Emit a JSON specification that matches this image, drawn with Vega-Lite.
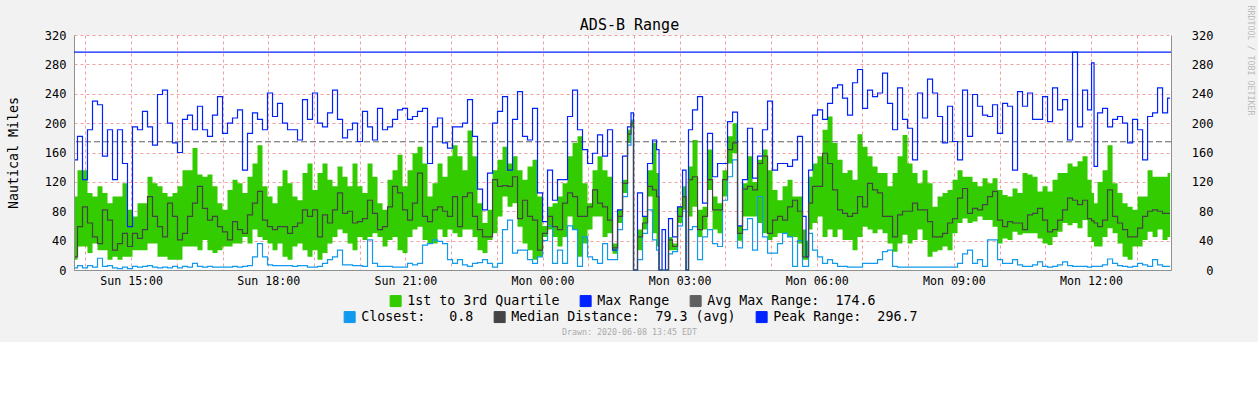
{
 "$schema": "https://vega.github.io/schema/vega-lite/v6.json",
 "width": 1097,
 "height": 235,
 "autosize": {"type": "none"},
 "padding": {"left": 74, "top": 35, "right": 87, "bottom": 72},
 "background": "#F2F2F2",
 "title": {"text": "ADS-B Range", "font": "DejaVu Sans Mono", "fontSize": 15, "fontWeight": "normal", "color": "#000000", "anchor": "middle", "frame": "group", "dx": 7, "offset": -40, "baseline": "alphabetic"},
 "config": {"view": {"fill": "white", "stroke": null}},
 "data": {"values": [
{"t":1.3,"max":150,"q3":100,"q1":14,"med":18,"cl":3},
{"t":7.9,"max":182,"q3":136,"q1":32,"med":59,"cl":6},
{"t":14.4,"max":123,"q3":136,"q1":32,"med":86,"cl":3},
{"t":21.0,"max":191,"q3":105,"q1":23,"med":64,"cl":6},
{"t":27.6,"max":230,"q3":100,"q1":36,"med":45,"cl":4},
{"t":34.1,"max":225,"q3":114,"q1":27,"med":36,"cl":16},
{"t":40.7,"max":155,"q3":105,"q1":27,"med":82,"cl":5},
{"t":47.3,"max":191,"q3":91,"q1":14,"med":68,"cl":6},
{"t":53.8,"max":123,"q3":100,"q1":18,"med":27,"cl":3},
{"t":60.4,"max":191,"q3":100,"q1":14,"med":36,"cl":2},
{"t":66.9,"max":145,"q3":118,"q1":18,"med":50,"cl":4},
{"t":73.5,"max":59,"q3":82,"q1":18,"med":32,"cl":2},
{"t":80.1,"max":195,"q3":73,"q1":27,"med":50,"cl":5},
{"t":86.6,"max":191,"q3":91,"q1":27,"med":43,"cl":4},
{"t":93.2,"max":216,"q3":91,"q1":27,"med":55,"cl":5},
{"t":99.8,"max":195,"q3":127,"q1":36,"med":100,"cl":6},
{"t":106.3,"max":170,"q3":118,"q1":36,"med":73,"cl":4},
{"t":112.9,"max":239,"q3":114,"q1":18,"med":59,"cl":3},
{"t":119.5,"max":245,"q3":105,"q1":18,"med":45,"cl":4},
{"t":126.0,"max":200,"q3":100,"q1":14,"med":91,"cl":3},
{"t":132.6,"max":173,"q3":105,"q1":14,"med":73,"cl":5},
{"t":139.1,"max":160,"q3":114,"q1":14,"med":41,"cl":3},
{"t":145.7,"max":205,"q3":136,"q1":32,"med":50,"cl":5},
{"t":152.3,"max":211,"q3":136,"q1":32,"med":73,"cl":4},
{"t":158.8,"max":191,"q3":166,"q1":32,"med":91,"cl":9},
{"t":165.4,"max":223,"q3":130,"q1":27,"med":114,"cl":5},
{"t":172.0,"max":191,"q3":127,"q1":41,"med":84,"cl":4},
{"t":178.5,"max":182,"q3":130,"q1":27,"med":68,"cl":5},
{"t":185.1,"max":211,"q3":114,"q1":23,"med":73,"cl":4},
{"t":191.7,"max":236,"q3":91,"q1":27,"med":59,"cl":4},
{"t":198.2,"max":186,"q3":82,"q1":32,"med":52,"cl":4},
{"t":204.8,"max":200,"q3":109,"q1":32,"med":41,"cl":4},
{"t":211.4,"max":207,"q3":123,"q1":36,"med":66,"cl":5},
{"t":217.9,"max":218,"q3":118,"q1":36,"med":55,"cl":4},
{"t":224.5,"max":136,"q3":105,"q1":45,"med":50,"cl":5},
{"t":231.0,"max":186,"q3":127,"q1":36,"med":75,"cl":6},
{"t":237.6,"max":214,"q3":145,"q1":55,"med":91,"cl":18},
{"t":244.2,"max":205,"q3":170,"q1":45,"med":107,"cl":36},
{"t":250.7,"max":191,"q3":114,"q1":41,"med":68,"cl":18},
{"t":257.3,"max":241,"q3":100,"q1":36,"med":59,"cl":7},
{"t":263.9,"max":209,"q3":91,"q1":27,"med":55,"cl":6},
{"t":270.4,"max":227,"q3":114,"q1":36,"med":59,"cl":6},
{"t":277.0,"max":200,"q3":136,"q1":18,"med":59,"cl":6},
{"t":283.6,"max":191,"q3":118,"q1":14,"med":50,"cl":6},
{"t":290.1,"max":191,"q3":100,"q1":32,"med":59,"cl":5},
{"t":296.7,"max":177,"q3":95,"q1":36,"med":64,"cl":6},
{"t":303.2,"max":232,"q3":132,"q1":27,"med":82,"cl":6},
{"t":309.8,"max":205,"q3":145,"q1":18,"med":73,"cl":4},
{"t":316.4,"max":241,"q3":109,"q1":27,"med":82,"cl":4},
{"t":322.9,"max":200,"q3":132,"q1":14,"med":45,"cl":5},
{"t":329.5,"max":195,"q3":145,"q1":23,"med":75,"cl":9},
{"t":336.1,"max":214,"q3":123,"q1":36,"med":64,"cl":14},
{"t":342.6,"max":245,"q3":114,"q1":45,"med":82,"cl":18},
{"t":349.2,"max":205,"q3":141,"q1":55,"med":105,"cl":27},
{"t":355.8,"max":180,"q3":127,"q1":50,"med":77,"cl":7},
{"t":362.3,"max":191,"q3":114,"q1":36,"med":80,"cl":7},
{"t":368.9,"max":200,"q3":145,"q1":27,"med":64,"cl":6},
{"t":375.4,"max":175,"q3":114,"q1":45,"med":66,"cl":6},
{"t":382.0,"max":216,"q3":105,"q1":41,"med":70,"cl":5},
{"t":388.6,"max":195,"q3":145,"q1":45,"med":95,"cl":41},
{"t":395.1,"max":177,"q3":127,"q1":50,"med":77,"cl":9},
{"t":401.7,"max":220,"q3":91,"q1":45,"med":55,"cl":5},
{"t":408.3,"max":191,"q3":82,"q1":32,"med":59,"cl":5},
{"t":414.8,"max":195,"q3":123,"q1":41,"med":86,"cl":5},
{"t":421.4,"max":205,"q3":136,"q1":45,"med":114,"cl":4},
{"t":428.0,"max":218,"q3":157,"q1":27,"med":105,"cl":4},
{"t":434.5,"max":220,"q3":114,"q1":23,"med":82,"cl":4},
{"t":441.1,"max":205,"q3":136,"q1":45,"med":68,"cl":9},
{"t":447.6,"max":209,"q3":159,"q1":55,"med":91,"cl":7},
{"t":454.2,"max":216,"q3":168,"q1":59,"med":132,"cl":9},
{"t":460.8,"max":220,"q3":145,"q1":41,"med":73,"cl":34},
{"t":467.3,"max":145,"q3":100,"q1":36,"med":66,"cl":36},
{"t":473.9,"max":195,"q3":118,"q1":36,"med":82,"cl":41},
{"t":480.5,"max":207,"q3":145,"q1":55,"med":86,"cl":39},
{"t":487.0,"max":173,"q3":127,"q1":45,"med":80,"cl":36},
{"t":493.6,"max":166,"q3":155,"q1":55,"med":73,"cl":14},
{"t":500.2,"max":195,"q3":170,"q1":50,"med":100,"cl":9},
{"t":506.7,"max":195,"q3":155,"q1":45,"med":59,"cl":14},
{"t":513.3,"max":200,"q3":136,"q1":55,"med":100,"cl":7},
{"t":519.8,"max":232,"q3":190,"q1":55,"med":105,"cl":5},
{"t":526.4,"max":182,"q3":155,"q1":45,"med":73,"cl":9},
{"t":533.0,"max":110,"q3":91,"q1":27,"med":55,"cl":10},
{"t":539.5,"max":82,"q3":64,"q1":23,"med":45,"cl":14},
{"t":546.1,"max":132,"q3":82,"q1":41,"med":45,"cl":9},
{"t":552.7,"max":200,"q3":136,"q1":50,"med":123,"cl":4},
{"t":559.2,"max":216,"q3":150,"q1":73,"med":114,"cl":9},
{"t":565.8,"max":236,"q3":168,"q1":100,"med":115,"cl":55},
{"t":572.4,"max":136,"q3":145,"q1":86,"med":114,"cl":68},
{"t":578.9,"max":205,"q3":155,"q1":91,"med":127,"cl":23},
{"t":585.5,"max":243,"q3":136,"q1":59,"med":70,"cl":27},
{"t":592.0,"max":182,"q3":123,"q1":36,"med":95,"cl":27},
{"t":598.6,"max":177,"q3":141,"q1":27,"med":73,"cl":14},
{"t":605.2,"max":220,"q3":150,"q1":14,"med":68,"cl":9},
{"t":611.7,"max":105,"q3":100,"q1":18,"med":27,"cl":18},
{"t":618.3,"max":66,"q3":60,"q1":45,"med":50,"cl":40},
{"t":624.9,"max":136,"q3":86,"q1":55,"med":73,"cl":60},
{"t":631.4,"max":95,"q3":91,"q1":45,"med":59,"cl":9},
{"t":638.0,"max":123,"q3":100,"q1":32,"med":55,"cl":27},
{"t":644.6,"max":123,"q3":118,"q1":45,"med":91,"cl":9},
{"t":651.1,"max":209,"q3":155,"q1":73,"med":105,"cl":60},
{"t":657.7,"max":245,"q3":173,"q1":55,"med":100,"cl":55},
{"t":664.2,"max":191,"q3":182,"q1":18,"med":73,"cl":5},
{"t":670.8,"max":164,"q3":118,"q1":36,"med":73,"cl":45},
{"t":677.4,"max":145,"q3":91,"q1":55,"med":86,"cl":18},
{"t":683.9,"max":159,"q3":136,"q1":73,"med":109,"cl":14},
{"t":690.5,"max":184,"q3":155,"q1":73,"med":91,"cl":9},
{"t":697.1,"max":155,"q3":136,"q1":45,"med":86,"cl":36},
{"t":703.6,"max":191,"q3":127,"q1":50,"med":68,"cl":14},
{"t":710.2,"max":27,"q3":36,"q1":22,"med":30,"cl":14},
{"t":716.8,"max":82,"q3":82,"q1":64,"med":73,"cl":55},
{"t":723.3,"max":155,"q3":123,"q1":105,"med":118,"cl":100},
{"t":729.9,"max":195,"q3":191,"q1":173,"med":185,"cl":170},
{"t":732.5,"max":214,"q3":205,"q1":195,"med":200,"cl":195},
{"t":736.4,"max":0,"q3":0,"q1":0,"med":0,"cl":0},
{"t":743.0,"max":105,"q3":55,"q1":27,"med":45,"cl":14},
{"t":749.6,"max":73,"q3":73,"q1":55,"med":64,"cl":50},
{"t":756.1,"max":145,"q3":136,"q1":100,"med":114,"cl":82},
{"t":762.7,"max":177,"q3":173,"q1":50,"med":109,"cl":41},
{"t":766.6,"max":164,"q3":132,"q1":32,"med":100,"cl":27},
{"t":769.3,"max":0,"q3":0,"q1":0,"med":0,"cl":0},
{"t":774.5,"max":55,"q3":0,"q1":0,"med":0,"cl":0},
{"t":778.4,"max":0,"q3":0,"q1":0,"med":0,"cl":0},
{"t":782.4,"max":70,"q3":45,"q1":27,"med":41,"cl":22},
{"t":789.0,"max":45,"q3":36,"q1":27,"med":32,"cl":25},
{"t":795.5,"max":86,"q3":86,"q1":64,"med":73,"cl":60},
{"t":802.1,"max":136,"q3":114,"q1":82,"med":100,"cl":80},
{"t":804.7,"max":0,"q3":0,"q1":0,"med":0,"cl":0},
{"t":808.6,"max":191,"q3":141,"q1":73,"med":123,"cl":55},
{"t":815.2,"max":218,"q3":177,"q1":86,"med":127,"cl":59},
{"t":821.8,"max":236,"q3":82,"q1":45,"med":55,"cl":14},
{"t":828.3,"max":91,"q3":86,"q1":55,"med":73,"cl":45},
{"t":834.9,"max":186,"q3":164,"q1":109,"med":123,"cl":55},
{"t":841.5,"max":127,"q3":100,"q1":55,"med":82,"cl":36},
{"t":848.0,"max":145,"q3":91,"q1":50,"med":82,"cl":32},
{"t":854.6,"max":145,"q3":136,"q1":100,"med":123,"cl":95},
{"t":861.2,"max":202,"q3":182,"q1":145,"med":164,"cl":127},
{"t":867.7,"max":215,"q3":200,"q1":159,"med":173,"cl":150},
{"t":874.3,"max":60,"q3":60,"q1":40,"med":50,"cl":30},
{"t":880.8,"max":123,"q3":118,"q1":73,"med":110,"cl":55},
{"t":887.4,"max":193,"q3":155,"q1":73,"med":114,"cl":70},
{"t":894.0,"max":125,"q3":120,"q1":73,"med":109,"cl":27},
{"t":900.5,"max":155,"q3":150,"q1":64,"med":145,"cl":100},
{"t":907.1,"max":191,"q3":164,"q1":50,"med":155,"cl":45},
{"t":913.7,"max":230,"q3":136,"q1":41,"med":50,"cl":23},
{"t":920.2,"max":136,"q3":109,"q1":45,"med":68,"cl":23},
{"t":926.8,"max":145,"q3":95,"q1":50,"med":73,"cl":36},
{"t":933.4,"max":145,"q3":114,"q1":50,"med":68,"cl":50},
{"t":939.9,"max":141,"q3":123,"q1":45,"med":86,"cl":45},
{"t":946.5,"max":150,"q3":100,"q1":45,"med":95,"cl":5},
{"t":953.0,"max":182,"q3":100,"q1":36,"med":80,"cl":40},
{"t":959.6,"max":73,"q3":55,"q1":14,"med":18,"cl":5},
{"t":962.3,"max":18,"q3":40,"q1":14,"med":18,"cl":5},
{"t":966.2,"max":136,"q3":127,"q1":55,"med":91,"cl":50},
{"t":972.7,"max":211,"q3":145,"q1":64,"med":114,"cl":27},
{"t":979.3,"max":218,"q3":155,"q1":73,"med":114,"cl":18},
{"t":985.9,"max":205,"q3":191,"q1":45,"med":159,"cl":9},
{"t":992.4,"max":227,"q3":209,"q1":55,"med":145,"cl":14},
{"t":999.0,"max":248,"q3":173,"q1":45,"med":109,"cl":9},
{"t":1005.6,"max":252,"q3":150,"q1":55,"med":82,"cl":5},
{"t":1012.1,"max":234,"q3":132,"q1":41,"med":77,"cl":5},
{"t":1018.7,"max":211,"q3":136,"q1":41,"med":73,"cl":4},
{"t":1025.2,"max":255,"q3":123,"q1":27,"med":77,"cl":4},
{"t":1031.8,"max":273,"q3":185,"q1":45,"med":100,"cl":4},
{"t":1038.4,"max":220,"q3":168,"q1":59,"med":86,"cl":9},
{"t":1044.9,"max":245,"q3":155,"q1":55,"med":118,"cl":9},
{"t":1051.5,"max":236,"q3":141,"q1":50,"med":109,"cl":9},
{"t":1058.1,"max":241,"q3":132,"q1":55,"med":105,"cl":14},
{"t":1064.6,"max":268,"q3":132,"q1":50,"med":73,"cl":25},
{"t":1071.2,"max":227,"q3":114,"q1":36,"med":73,"cl":27},
{"t":1077.8,"max":191,"q3":132,"q1":25,"med":45,"cl":5},
{"t":1084.3,"max":248,"q3":155,"q1":36,"med":75,"cl":4},
{"t":1090.9,"max":205,"q3":184,"q1":48,"med":80,"cl":4},
{"t":1097.4,"max":193,"q3":145,"q1":36,"med":80,"cl":4},
{"t":1104.0,"max":150,"q3":132,"q1":41,"med":91,"cl":4},
{"t":1110.6,"max":241,"q3":118,"q1":55,"med":82,"cl":4},
{"t":1117.1,"max":207,"q3":136,"q1":41,"med":82,"cl":4},
{"t":1123.7,"max":260,"q3":118,"q1":18,"med":66,"cl":4},
{"t":1130.3,"max":241,"q3":86,"q1":25,"med":45,"cl":4},
{"t":1136.8,"max":209,"q3":100,"q1":27,"med":45,"cl":4},
{"t":1143.4,"max":173,"q3":105,"q1":32,"med":50,"cl":4},
{"t":1150.0,"max":223,"q3":109,"q1":27,"med":64,"cl":4},
{"t":1156.5,"max":175,"q3":123,"q1":50,"med":70,"cl":4},
{"t":1163.1,"max":150,"q3":136,"q1":64,"med":98,"cl":9},
{"t":1169.6,"max":245,"q3":127,"q1":70,"med":111,"cl":22},
{"t":1176.2,"max":182,"q3":127,"q1":64,"med":77,"cl":27},
{"t":1182.8,"max":239,"q3":120,"q1":66,"med":84,"cl":9},
{"t":1189.3,"max":223,"q3":114,"q1":73,"med":82,"cl":14},
{"t":1195.9,"max":211,"q3":125,"q1":68,"med":89,"cl":5},
{"t":1202.5,"max":209,"q3":118,"q1":68,"med":100,"cl":41},
{"t":1209.0,"max":225,"q3":125,"q1":59,"med":107,"cl":41},
{"t":1215.6,"max":186,"q3":109,"q1":36,"med":68,"cl":14},
{"t":1222.2,"max":227,"q3":102,"q1":43,"med":59,"cl":9},
{"t":1228.7,"max":223,"q3":100,"q1":41,"med":66,"cl":9},
{"t":1235.3,"max":136,"q3":111,"q1":52,"med":64,"cl":14},
{"t":1241.8,"max":243,"q3":105,"q1":48,"med":64,"cl":7},
{"t":1248.4,"max":223,"q3":132,"q1":50,"med":55,"cl":5},
{"t":1255.0,"max":241,"q3":130,"q1":50,"med":75,"cl":5},
{"t":1261.5,"max":205,"q3":127,"q1":50,"med":77,"cl":7},
{"t":1268.1,"max":205,"q3":107,"q1":43,"med":84,"cl":11},
{"t":1274.7,"max":236,"q3":114,"q1":36,"med":68,"cl":5},
{"t":1281.2,"max":202,"q3":107,"q1":34,"med":52,"cl":4},
{"t":1287.8,"max":248,"q3":123,"q1":45,"med":55,"cl":5},
{"t":1294.4,"max":218,"q3":132,"q1":52,"med":68,"cl":7},
{"t":1300.9,"max":232,"q3":132,"q1":64,"med":82,"cl":11},
{"t":1307.5,"max":177,"q3":145,"q1":61,"med":98,"cl":6},
{"t":1314.0,"max":296.7,"q3":141,"q1":64,"med":95,"cl":5},
{"t":1320.6,"max":195,"q3":148,"q1":57,"med":89,"cl":5},
{"t":1327.2,"max":245,"q3":155,"q1":68,"med":95,"cl":5},
{"t":1333.7,"max":218,"q3":123,"q1":45,"med":70,"cl":4},
{"t":1337.7,"max":282,"q3":105,"q1":38,"med":67,"cl":5},
{"t":1340.3,"max":141,"q3":91,"q1":32,"med":64,"cl":5},
{"t":1346.9,"max":214,"q3":120,"q1":32,"med":59,"cl":5},
{"t":1353.4,"max":220,"q3":136,"q1":45,"med":68,"cl":7},
{"t":1360.0,"max":195,"q3":170,"q1":57,"med":109,"cl":15},
{"t":1366.6,"max":205,"q3":118,"q1":50,"med":73,"cl":9},
{"t":1373.1,"max":209,"q3":105,"q1":36,"med":64,"cl":6},
{"t":1379.7,"max":200,"q3":91,"q1":18,"med":55,"cl":5},
{"t":1386.3,"max":173,"q3":86,"q1":14,"med":45,"cl":4},
{"t":1392.8,"max":205,"q3":82,"q1":32,"med":45,"cl":5},
{"t":1399.4,"max":191,"q3":100,"q1":32,"med":57,"cl":9},
{"t":1406.0,"max":150,"q3":100,"q1":41,"med":73,"cl":7},
{"t":1412.5,"max":209,"q3":136,"q1":52,"med":80,"cl":5},
{"t":1419.1,"max":214,"q3":127,"q1":45,"med":82,"cl":14},
{"t":1425.6,"max":248,"q3":127,"q1":55,"med":80,"cl":7},
{"t":1432.2,"max":214,"q3":127,"q1":41,"med":77,"cl":5},
{"t":1438.8,"max":234,"q3":132,"q1":45,"med":77,"cl":5}
 ]},
 "layer": [
  {
   "mark": {"type": "area", "interpolate": "step", "opacity": 1},
   "encoding": {
    "x": {"field": "t", "type": "quantitative", "scale": {"domain": [0, 1440], "nice": false, "zero": false},
     "axis": {"values": [15, 75, 135, 195, 255, 315, 375, 435, 495, 555, 615, 675, 735, 795, 855, 915, 975, 1035, 1095, 1155, 1215, 1275, 1335, 1395],
      "grid": true, "gridColor": "#F0A0A0", "gridDash": [3, 3], "gridWidth": 1,
      "ticks": false, "domain": true, "domainColor": "#909090",
      "labelExpr": "(datum.value + 825) / 60 % 3 == 0 ? ((datum.value + 825) / 60 < 24 ? 'Sun ' : 'Mon ') + ((datum.value + 825) / 60 % 24 < 10 ? '0' : '') + (datum.value + 825) / 60 % 24 + ':00' : ''",
      "labelFont": "DejaVu Sans Mono", "labelFontSize": 11.6, "labelColor": "#000000", "labelPadding": 5, "labelOverlap": false, "labelFlush": false,
      "title": "Drawn: 2020-06-08 13:45 EDT", "titleFont": "DejaVu Sans Mono", "titleFontSize": 8.3, "titleFontWeight": "normal", "titleColor": "#AAAAAA",
      "titleX": 555, "titleY": 62, "titleAlign": "center", "titleBaseline": "middle"}},
    "y": {"field": "q3", "type": "quantitative", "scale": {"domain": [0, 320], "nice": false}, "axis": null},
    "y2": {"field": "q1"},
    "color": {"datum": "1st to 3rd Quartile",
     "scale": {"domain": ["1st to 3rd Quartile", "Max Range", "Avg Max Range:\u00a0\u00a0174.6"], "range": ["#33CC00", "#0022FF", "#606060"]},
     "legend": {"title": null, "orient": "none", "legendX": 315, "legendY": 259, "direction": "horizontal", "columns": 3,
      "symbolType": "square", "symbolSize": 121, "symbolStrokeWidth": 1, "symbolStrokeColor": "#000000", "symbolOpacity": 1,
      "labelFont": "DejaVu Sans Mono", "labelFontSize": 13.3, "labelColor": "#000000", "labelLimit": 400, "labelOffset": 5, "columnPadding": 18,
      "encode": {"symbols": {"update": {"fill": {"scale": "color", "field": "value"}, "stroke": {"value": "#000000"}, "strokeWidth": {"value": 1}, "opacity": {"value": 1}}}}}}
   }
  },
  {
   "data": {"values": [{}]},
   "mark": {"type": "rule", "strokeDash": [6, 3], "strokeWidth": 1},
   "encoding": {
    "y": {"datum": 174.6, "type": "quantitative",
     "axis": {"orient": "left", "values": [0, 40, 80, 120, 160, 200, 240, 280, 320], "grid": true, "gridColor": "#F0A0A0", "gridDash": [3, 3],
      "ticks": false, "domain": true, "domainColor": "#909090",
      "labelFont": "DejaVu Sans Mono", "labelFontSize": 12, "labelColor": "#000000", "labelPadding": 8,
      "title": "Nautical Miles", "titleFont": "DejaVu Sans Mono", "titleFontSize": 13.3, "titleFontWeight": "normal", "titleColor": "#000000",
      "titleAngle": 270, "titleX": -57, "titleY": 117.5, "titleAlign": "center", "titleBaseline": "alphabetic"}},
    "color": {"datum": "Avg Max Range:\u00a0\u00a0174.6"}
   }
  },
  {
   "mark": {"type": "line", "interpolate": "step", "strokeWidth": 1.2},
   "encoding": {
    "x": {"field": "t", "type": "quantitative"},
    "y": {"field": "max", "type": "quantitative", "axis": null},
    "color": {"datum": "Max Range"}
   }
  },
  {
   "mark": {"type": "line", "interpolate": "step", "strokeWidth": 1.2},
   "encoding": {
    "x": {"field": "t", "type": "quantitative"},
    "y": {"field": "cl", "type": "quantitative", "axis": null},
    "stroke": {"datum": "Closest:\u00a0\u00a0\u00a00.8",
     "scale": {"domain": ["Closest:\u00a0\u00a0\u00a00.8", "Median Distance:\u00a0\u00a079.3 (avg)", "Peak Range:\u00a0\u00a0296.7"], "range": ["#1199EE", "#444444", "#0022FF"]},
     "legend": {"title": null, "orient": "none", "legendX": 269, "legendY": 275, "direction": "horizontal", "columns": 3,
      "symbolType": "square", "symbolSize": 121, "symbolStrokeWidth": 1, "symbolStrokeColor": "#000000", "symbolOpacity": 1,
      "labelFont": "DejaVu Sans Mono", "labelFontSize": 13.3, "labelColor": "#000000", "labelLimit": 400, "labelOffset": 5, "columnPadding": 18,
      "encode": {"symbols": {"update": {"fill": {"scale": "stroke", "field": "value"}, "stroke": {"value": "#000000"}, "strokeWidth": {"value": 1}, "opacity": {"value": 1}}}}}}
   }
  },
  {
   "mark": {"type": "line", "interpolate": "step", "strokeWidth": 1.2},
   "encoding": {
    "x": {"field": "t", "type": "quantitative"},
    "y": {"field": "med", "type": "quantitative", "axis": null},
    "stroke": {"datum": "Median Distance:\u00a0\u00a079.3 (avg)"}
   }
  },
  {
   "data": {"values": [{}]},
   "mark": {"type": "rule", "strokeWidth": 1.2},
   "encoding": {
    "y": {"datum": 296.7, "type": "quantitative",
     "axis": {"orient": "right", "values": [0, 40, 80, 120, 160, 200, 240, 280, 320], "grid": false,
      "ticks": false, "domain": true, "domainColor": "#909090",
      "labelFont": "DejaVu Sans Mono", "labelFontSize": 12, "labelColor": "#000000", "labelAlign": "right", "labelPadding": 42,
      "title": "RRDTOOL / TOBI OETIKER", "titleFont": "DejaVu Sans Mono", "titleFontSize": 8.3, "titleFontWeight": "normal", "titleColor": "#BBBBBB",
      "titleAngle": 90, "titleX": 76, "titleY": -30, "titleAlign": "left", "titleBaseline": "alphabetic"}},
    "stroke": {"datum": "Peak Range:\u00a0\u00a0296.7"}
   }
  }
 ],
 "resolve": {"axis": {"y": "independent"}}
}
